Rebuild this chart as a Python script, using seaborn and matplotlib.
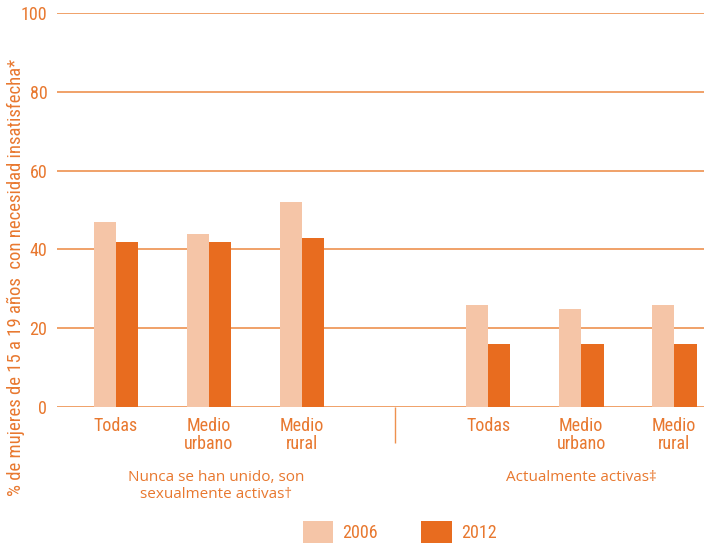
import pandas as pd
import matplotlib
matplotlib.use('Agg')
import matplotlib.pyplot as plt
from matplotlib import font_manager
from matplotlib.patches import Patch
import seaborn as sns

# positions on the x axis (gap at 3 separates the two groups)
positions = [0, 1, 2, 4, 5, 6]
cat_labels = ['Todas', 'Medio\nurbano', 'Medio\nrural',
              'Todas', 'Medio\nurbano', 'Medio\nrural']
val_2006 = [47, 44, 52, 26, 25, 26]
val_2012 = [42, 42, 43, 16, 16, 16]
years = ['2006', '2012']
group_labels = ['Nunca se han unido, son\nsexualmente activas\u2020',
                'Actualmente activas\u2021']
ylabel = '% de mujeres de 15 a 19 a\u00f1os  con necesidad insatisfecha*'

light = '#F5C5A7'
dark = '#E86C1F'
txt = '#E8782F'
grid_col = '#EE914F'

names = {f.name for f in font_manager.fontManager.ttflist}
narrow = next((n for n in ['Liberation Sans Narrow', 'Roboto Condensed']
               if n in names), 'DejaVu Sans')

df = pd.DataFrame({
    'pos': positions * 2,
    'valor': val_2006 + val_2012,
    'anio': [years[0]] * 6 + [years[1]] * 6,
})

sns.set_style('white')
plt.rcParams['font.family'] = [narrow, 'DejaVu Sans']

fig = plt.figure(figsize=(7.04, 5.47), dpi=100)
ax = fig.add_axes([57 / 704, 1 - 407 / 547, 1 - 57 / 704, (407 - 13) / 547])

sns.barplot(data=df, x='pos', y='valor', hue='anio', native_scale=True,
            palette=[light, dark], width=0.48, saturation=1,
            linewidth=0, legend=False, ax=ax)

ax.set_xlim(-0.634, 6.32)
ax.set_ylim(0, 100)
ax.set_yticks([0, 20, 40, 60, 80, 100])
ax.set_axisbelow(True)
ax.grid(axis='y', color=grid_col, linewidth=1.2)
ax.grid(axis='x', visible=False)
for s in ax.spines.values():
    s.set_visible(False)

ax.set_xticks(positions)
ax.set_xticklabels(cat_labels, color=txt, fontsize=13, linespacing=1.05)
ax.set_xticks([3], minor=True)
ax.tick_params(axis='x', which='major', length=0, pad=7)
ax.tick_params(axis='x', which='minor', bottom=True, length=26, width=1,
               color=grid_col)
ax.tick_params(axis='y', length=0, pad=7, labelsize=13, labelcolor=txt)
ax.set_xlabel('')
ax.set_ylabel('')
fig.text(16 / 704, 1 - 277 / 547, ylabel, rotation=90, ha='center',
         va='center', color=txt, fontsize=13.5)

for x, lab in zip([1.08, 5.0], group_labels):
    ax.text(x, -16, lab, ha='center', va='top', color=txt, fontsize=11,
            family=['Open Sans', 'DejaVu Sans'], linespacing=1.15,
            clip_on=False)

handles = [Patch(facecolor=light, edgecolor='none'),
           Patch(facecolor=dark, edgecolor='none')]
leg = fig.legend(handles, years, loc='center', bbox_to_anchor=(0.568, 0.028),
                 ncol=2, frameon=False, fontsize=13, handlelength=1.7,
                 handleheight=1.5, handletextpad=0.5, columnspacing=2.4)
for t in leg.get_texts():
    t.set_color(txt)

fig.savefig('out.png', dpi=100)
